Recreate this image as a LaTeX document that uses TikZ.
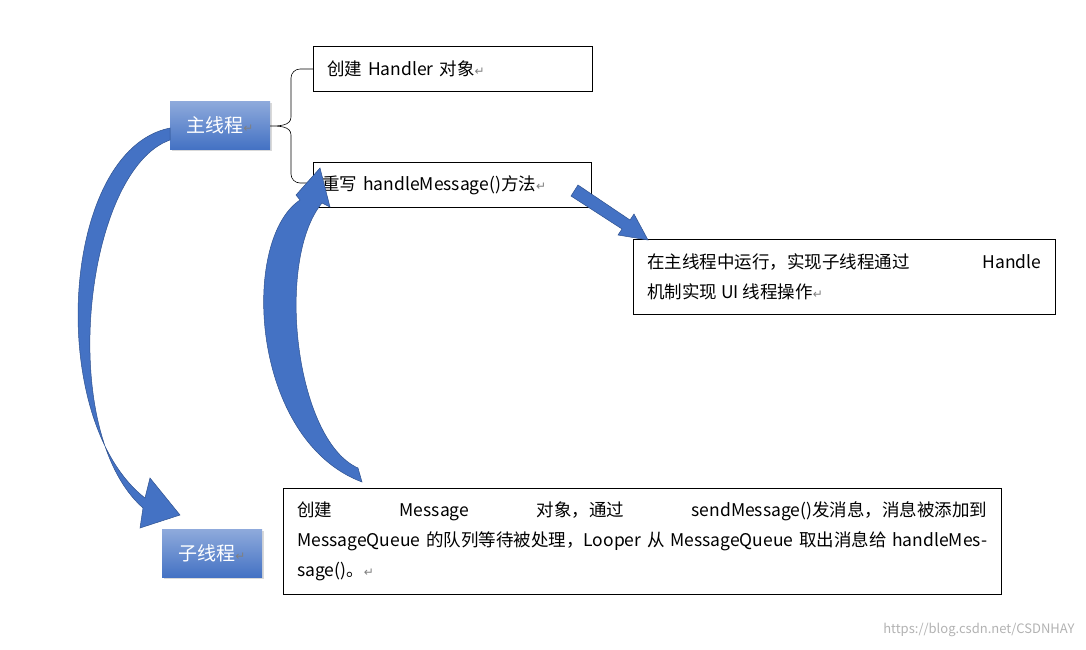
\documentclass[tikz,border=0pt]{standalone}
\usepackage{fontspec}
\setmainfont{Noto Sans CJK SC}
\newfontfamily\djfont{DejaVu Sans}
\usetikzlibrary{decorations.pathreplacing,shadows}
\definecolor{ab}{RGB}{68,114,196}
\definecolor{abd}{RGB}{47,82,143}
\tikzset{
 tbox/.style={draw=black,line width=0.6pt,fill=white,inner xsep=14pt,inner ysep=0pt,font=\fontsize{17.5}{30}\selectfont},
 thread/.style={minimum width=100pt,minimum height=48pt,text=white,font=\fontsize{19}{20}\selectfont,
   top color=ab!60!white,bottom color=ab,draw=none,drop shadow={shadow xshift=2pt,shadow yshift=-2pt,opacity=0.3}},
 arr/.style={fill=ab,draw=abd,line width=0.5pt},
}
\newcommand{\rt}{{\djfont\color{gray}\fontsize{12}{12}\selectfont ↵}}
\begin{document}
\begin{tikzpicture}[x=1pt,y=-1pt]
\useasboundingbox (0,0) rectangle (1086,649);
\node[thread] (main) at (220,125) {主线程\rt};
\node[thread] (sub) at (212,553) {子线程\rt};
\node[tbox,minimum width=279pt,minimum height=45pt,anchor=north west,text width=251pt,align=left] (b1) at (313,46) {创建 Handler 对象\rt};
\node[tbox,minimum width=278pt,minimum height=45pt,anchor=north west,text width=260pt,align=left,inner xsep=8pt] (b2) at (313,162) {重写 handleMessage()方法\rt};
\node[tbox,minimum width=422pt,minimum height=75pt,anchor=north west,text width=394pt,align=justify] (b3) at (633,239) {在主线程中运行，实现子线程通过 Handle\linebreak 机制实现 UI 线程操作\rt};
\node[tbox,minimum width=718pt,minimum height=106pt,anchor=north west,text width=690pt,align=justify] (b4) at (283,488) {创建 Message 对象，通过 sendMessage()发消息，消息被添加到\linebreak MessageQueue 的队列等待被处理，Looper 从 MessageQueue 取出消息给 handleMessage()。\rt};
% brace
\coordinate (bt) at (313,69);
\coordinate (bb) at (313,183);
\draw[line width=0.6pt] (bt) -- (300,69) to[out=180,in=90] (291,78) -- (291,117) to[out=-90,in=0] (270,126)
  to[out=0,in=90] (291,135) -- (291,174) to[out=-90,in=180] (300,183) -- (bb);
% curved arrow 1 main -> sub
\path[arr] (170,128) .. controls (60,150) and (45,420) .. (145,498)
  -- (150,478) -- (180,515) -- (140,528) -- (143,508)
  .. controls (55,430) and (85,170) .. (170,140) -- cycle;
% curved arrow 2 b4 -> b2
\path[arr] (362,482) .. controls (250,440) and (240,240) .. (300,200)
  -- (296,195) -- (320,168) -- (330,207) -- (322,203)
  .. controls (275,260) and (295,440) .. (358,468) -- cycle;
% straight arrow b2 -> b3
\path[arr] (571,196) -- (622,229) -- (618,235) -- (648,240) -- (634,214) -- (630,220) -- (578,185) -- cycle;
\node[text=gray!60,font=\fontsize{13}{14}\selectfont,anchor=east] (wm) at (1078,630) {https://blog.csdn.net/CSDNHAY};
\end{tikzpicture}
\end{document}
